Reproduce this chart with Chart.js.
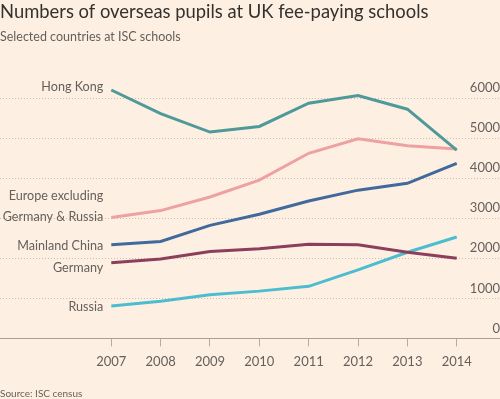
<!DOCTYPE html>
<html>
<head>
<meta charset="utf-8">
<script src="https://cdn.jsdelivr.net/npm/chart.js@4/dist/chart.umd.min.js"></script>
<style>
  html, body { margin: 0; padding: 0; background: #fdf0e2; }
  #wrap { width: 500px; height: 399px; position: relative; }
</style>
</head>
<body>
<div id="wrap"><canvas id="chart"></canvas></div>
<script>
const years = [2007, 2008, 2009, 2010, 2011, 2012, 2013, 2014];
const hongKong = [6200, 5610, 5150, 5290, 5870, 6060, 5720, 4700];
const europeExcl = [3020, 3190, 3530, 3950, 4620, 4980, 4810, 4730];
const mainlandChina = [2340, 2420, 2820, 3100, 3430, 3700, 3870, 4370];
const germany = [1890, 1980, 2170, 2240, 2350, 2340, 2150, 2000];
const russia = [810, 925, 1090, 1180, 1300, 1710, 2150, 2530];
const yTicks = [0, 1000, 2000, 3000, 4000, 5000, 6000];

const textCol = '#66605c';
const font = 'Lato, "Noto Sans", sans-serif';

// label text, line offset from first point (px)
const seriesInfo = [
    { name: 'Hong Kong', data: hongKong, color: '#4f9a99', label: ['Hong Kong'], dy: [1] },
    { name: 'Europe excluding Germany & Russia', data: europeExcl, color: '#eda1a2', label: ['Europe excluding', 'Germany & Russia'], dy: [-17, 4] },
    { name: 'Mainland China', data: mainlandChina, color: '#40699c', label: ['Mainland China'], dy: [5] },
    { name: 'Germany', data: germany, color: '#8c3e5a', label: ['Germany'], dy: [9] },
    { name: 'Russia', data: russia, color: '#4cbdd0', label: ['Russia'], dy: [5] }
];

const textPlugin = {
    id: 'textPlugin',
    afterDraw(chart) {
        const { ctx, scales: { x, y } } = chart;
        ctx.save();
        ctx.textBaseline = 'alphabetic';
        ctx.fillStyle = '#33302e';
        ctx.textAlign = 'left';
        ctx.font = '18.4px ' + font;
        ctx.fillText('Numbers of overseas pupils at UK fee-paying schools', 0, 17.5);
        ctx.fillStyle = textCol;
        ctx.font = '12.5px ' + font;
        ctx.fillText('Selected countries at ISC schools', 0, 40.5);
        ctx.font = '10px ' + font;
        ctx.fillText('Source: ISC census', 0, 396.5);

        ctx.font = '12.6px ' + font;
        ctx.textAlign = 'right';
        seriesInfo.forEach(s => {
            const px = x.getPixelForValue(years[0]) - 8;
            const py = y.getPixelForValue(s.data[0]);
            s.label.forEach((t, i) => ctx.fillText(t, px, py + s.dy[i]));
        });
        ctx.restore();
    }
};

new Chart(document.getElementById('chart'), {
    type: 'line',
    data: {
        datasets: seriesInfo.map(s => ({
            label: s.name,
            data: years.map((yr, i) => ({ x: yr, y: s.data[i] })),
            borderColor: s.color,
            backgroundColor: s.color,
            borderWidth: 3,
            pointRadius: 0,
            tension: 0,
            clip: false
        }))
    },
    options: {
        responsive: true,
        maintainAspectRatio: false,
        animation: false,
        layout: { padding: { top: 98, bottom: 21, left: 0, right: 0 } },
        plugins: {
            legend: { display: false },
            tooltip: { enabled: false }
        },
        scales: {
            x: {
                type: 'linear',
                min: 2004.745,
                max: 2014.877,
                afterBuildTicks: scale => { scale.ticks = years.map(v => ({ value: v })); },
                grid: { drawOnChartArea: false, drawTicks: true, tickLength: 8, color: '#b5aca5' },
                border: { display: true, color: '#a8a09a', width: 1 },
                ticks: {
                    color: textCol,
                    font: { family: font, size: 13 },
                    padding: 8,
                    maxRotation: 0,
                    callback: v => String(v)
                }
            },
            y: {
                position: 'right',
                min: 0,
                max: 6000,
                afterBuildTicks: scale => { scale.ticks = yTicks.map(v => ({ value: v })); },
                grid: {
                    drawTicks: false,
                    color: ctx => ctx.tick && ctx.tick.value === 0 ? 'rgba(0,0,0,0)' : '#c9beb4',
                    lineWidth: 1
                },
                border: { display: false, dash: [1, 2] },
                ticks: {
                    mirror: true,
                    padding: 0,
                    labelOffset: -10,
                    color: textCol,
                    font: { family: font, size: 13 },
                    callback: v => String(v)
                }
            }
        }
    },
    plugins: [textPlugin]
});
</script>
</body>
</html>
